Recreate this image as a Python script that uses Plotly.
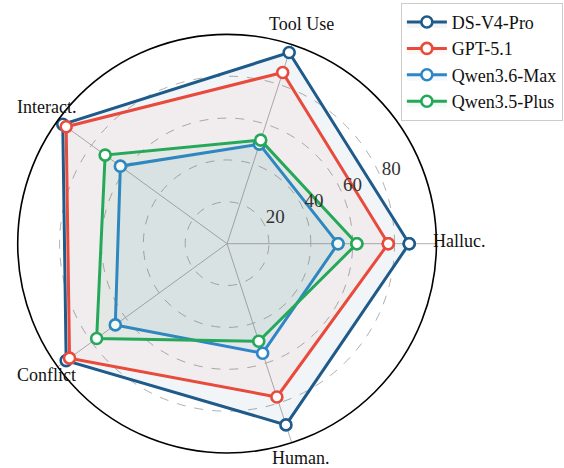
import math
import plotly.graph_objects as go

# Radar chart data
categories = ["Halluc.", "Tool Use", "Interact.", "Conflict", "Human."]
angles = [0, 72, 144, 216, 288]
models = ["DS-V4-Pro", "GPT-5.1", "Qwen3.6-Max", "Qwen3.5-Plus"]
ds_v4_pro = [87, 96, 97, 95, 91]
gpt_5_1 = [77, 86, 95, 93, 77]
qwen36_max = [53, 50, 63, 66, 55]
qwen35_plus = [62, 52, 72, 77, 49]
radial_ticks = [20, 40, 60, 80]

series = [ds_v4_pro, gpt_5_1, qwen36_max, qwen35_plus]
colors = ["#1f5b8a", "#e84a3c", "#2f86c6", "#25a85a"]
fills = ["rgba(31,91,138,0.06)", "rgba(232,74,60,0.05)",
         "rgba(47,134,198,0.06)", "rgba(37,168,90,0.06)"]

serif = "Liberation Serif, Times New Roman, DejaVu Serif, serif"
W, H = 564, 468

fig = go.Figure()
for name, vals, col, fc in zip(models, series, colors, fills):
    fig.add_trace(go.Scatterpolar(
        r=vals + vals[:1],
        theta=angles + angles[:1],
        name=name,
        mode="lines+markers",
        fill="toself",
        fillcolor=fc,
        line=dict(color=col, width=3),
        marker=dict(size=11, color="white", line=dict(color=col, width=2.6)),
    ))

# radial tick labels at 22.5 deg
fig.add_trace(go.Scatterpolar(
    r=radial_ticks, theta=[22.5] * len(radial_ticks),
    text=[str(t) for t in radial_ticks],
    mode="text", textposition="top right", cliponaxis=False,
    textfont=dict(family=serif, size=19, color="#333"),
    showlegend=False, hoverinfo="skip",
))

# category labels just outside the circle (polar drops r > range)
cx, cy, lab_r = 231, 241, 228
for cat, a in zip(categories, angles):
    t = math.radians(a)
    fig.add_annotation(
        x=(cx + lab_r * math.cos(t)) / W, y=1 - (cy - lab_r * math.sin(t)) / H,
        xref="paper", yref="paper", text=cat, showarrow=False,
        xanchor="center", yanchor="middle",
        font=dict(family=serif, size=18, color="#111"),
    )

fig.update_layout(
    width=W, height=H,
    margin=dict(l=0, r=0, t=0, b=0),
    paper_bgcolor="white",
    font=dict(family=serif, color="#222", size=17),
    polar=dict(
        domain=dict(x=[0.0314, 0.7738], y=[0.0303, 0.9283]),
        bgcolor="white",
        radialaxis=dict(
            range=[0, 100], tickvals=radial_ticks, showticklabels=False,
            showline=False, ticks="", gridcolor="#b0b0b0", griddash="dash",
            gridwidth=1.2,
        ),
        angularaxis=dict(
            direction="counterclockwise", rotation=0,
            tickvals=angles, showticklabels=False,
            showline=True, linecolor="black", linewidth=1.6,
            gridcolor="#b0b0b0", gridwidth=1.2, ticks="",
        ),
    ),
    legend=dict(
        x=0.998, y=0.994, xanchor="right", yanchor="top",
        bgcolor="white", bordercolor="#cccccc", borderwidth=1,
        font=dict(family=serif, size=18, color="#111"),
        itemwidth=40,
    ),
)

# page body has a default 8px margin that shifts the figure
fig.write_html("out.html", config={"displayModeBar": False},
               post_script="document.body.style.margin='0';")
